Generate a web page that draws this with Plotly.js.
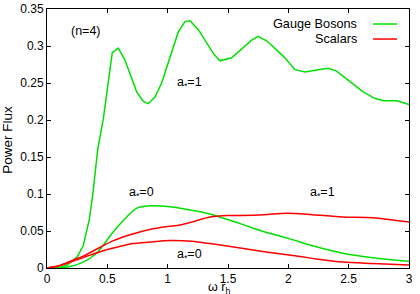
<!DOCTYPE html>
<html>
<head>
<meta charset="utf-8">
<script src="https://cdn.plot.ly/plotly-3.0.1.min.js"></script>
<style>html,body{margin:0;padding:0;background:#fff}#chart{width:420px;height:294px}</style>
</head>
<body>
<div id="chart"></div>
<script>
// Gauge bosons, a*=1
const gb1X = [0, 0.1, 0.166, 0.25, 0.3, 0.35, 0.38, 0.42, 0.467, 0.541, 0.591, 0.646, 0.743, 0.798, 0.839, 0.895, 0.95, 1.088, 1.143, 1.185, 1.254, 1.378, 1.433, 1.53, 1.696, 1.75, 1.82, 1.96, 2.055, 2.138, 2.248, 2.33, 2.40, 2.51, 2.62, 2.72, 2.79, 2.90, 3.0];
const gb1Y = [0, 0.0005, 0.004, 0.015, 0.03, 0.065, 0.10, 0.16, 0.202, 0.291, 0.297, 0.281, 0.238, 0.225, 0.222, 0.231, 0.250, 0.319, 0.333, 0.334, 0.322, 0.290, 0.280, 0.284, 0.308, 0.313, 0.307, 0.286, 0.268, 0.265, 0.268, 0.270, 0.266, 0.252, 0.238, 0.229, 0.226, 0.226, 0.221];
// Gauge bosons, a*=0
const gb0X = [0, 0.1, 0.16, 0.3, 0.41, 0.55, 0.66, 0.745, 0.88, 1.0, 1.2, 1.35, 1.6, 1.8, 2.0, 2.2, 2.45, 2.7, 3.0];
const gb0Y = [0, 0.0002, 0.001, 0.008, 0.02, 0.049, 0.069, 0.081, 0.084, 0.083, 0.078, 0.073, 0.060, 0.049, 0.040, 0.030, 0.020, 0.014, 0.009];
// Scalars, a*=1
const sc1X = [0, 0.1, 0.22, 0.3, 0.44, 0.55, 0.71, 0.85, 1.0, 1.1, 1.2, 1.35, 1.5, 1.62, 1.8, 1.99, 2.2, 2.45, 2.7, 3.0];
const sc1Y = [0, 0.003, 0.011, 0.016, 0.028, 0.037, 0.046, 0.052, 0.056, 0.058, 0.062, 0.069, 0.071, 0.071, 0.072, 0.074, 0.072, 0.069, 0.068, 0.062];
// Scalars, a*=0
const sc0X = [0, 0.1, 0.16, 0.3, 0.44, 0.6, 0.71, 0.85, 1.02, 1.2, 1.35, 1.6, 1.8, 1.99, 2.2, 2.45, 2.7, 3.0];
const sc0Y = [0, 0.003, 0.006, 0.014, 0.022, 0.029, 0.033, 0.035, 0.037, 0.036, 0.033, 0.027, 0.022, 0.018, 0.013, 0.008, 0.006, 0.004];

const xTicks = [0, 0.5, 1, 1.5, 2, 2.5, 3];
const xTickText = ['0', '0.5', '1', '1.5', '2', '2.5', '3'];
const yTicks = [0, 0.05, 0.1, 0.15, 0.2, 0.25, 0.3, 0.35];
const yTickText = ['0', '0.05', '0.1', '0.15', '0.2', '0.25', '0.3', '0.35'];

const GREEN = '#00e000';
const RED = '#ff0000';
const FAM = 'Liberation Sans, Arial, sans-serif';
const FONT = {family: FAM, size: 12, color: '#000'};
const TFONT = {family: FAM, size: 12.5, color: '#000'};

const traces = [
  {x: gb1X, y: gb1Y, mode: 'lines', name: 'Gauge Bosons', line: {color: GREEN, width: 1.5}},
  {x: gb0X, y: gb0Y, mode: 'lines', name: 'Gauge Bosons', line: {color: GREEN, width: 1.5, shape: 'spline', smoothing: 0.8}},
  {x: sc1X, y: sc1Y, mode: 'lines', name: 'Scalars', line: {color: RED, width: 1.5, shape: 'spline', smoothing: 0.8}},
  {x: sc0X, y: sc0Y, mode: 'lines', name: 'Scalars', line: {color: RED, width: 1.5, shape: 'spline', smoothing: 0.8}}
];

const ann = (x, y, text) => ({x, y, xref: 'x', yref: 'y', text, showarrow: false, font: TFONT, xanchor: 'center', yanchor: 'middle'});

const layout = {
  width: 420, height: 294,
  margin: {l: 47, r: 11, t: 9, b: 26},
  paper_bgcolor: '#fff', plot_bgcolor: '#fff',
  showlegend: false,
  font: FONT,
  xaxis: {
    range: [0, 3], tickvals: xTicks, ticktext: xTickText,
    ticks: 'inside', ticklen: 4, tickcolor: '#000', showline: true, linecolor: '#000', linewidth: 1,
    mirror: 'ticks', showgrid: false, zeroline: false, tickfont: FONT
  },
  yaxis: {
    range: [0, 0.35], tickvals: yTicks, ticktext: yTickText,
    ticks: 'inside', ticklen: 4, tickcolor: '#000', showline: true, linecolor: '#000', linewidth: 1,
    mirror: 'ticks', showgrid: false, zeroline: false, tickfont: FONT
  },
  annotations: [
    ann(0.323, 0.320, '(n=4)'),
    ann(1.185, 0.250, 'a<sub>*</sub>=1'),
    ann(0.787, 0.101, 'a<sub>*</sub>=0'),
    ann(2.28, 0.101, 'a<sub>*</sub>=1'),
    ann(1.185, 0.0176, 'a<sub>*</sub>=0'),
    {x: 0.862, y: 0.942, xref: 'paper', yref: 'paper', text: 'Gauge Bosons', showarrow: false, font: {family: FAM, size: 12.7, color: '#000'}, xanchor: 'right', yanchor: 'middle'},
    {x: 0.862, y: 0.884, xref: 'paper', yref: 'paper', text: 'Scalars', showarrow: false, font: {family: FAM, size: 12.7, color: '#000'}, xanchor: 'right', yanchor: 'middle'},
    {x: 0.475, y: -0.077, xref: 'paper', yref: 'paper', text: 'ω r<sub>h</sub>', showarrow: false, font: TFONT, xanchor: 'center', yanchor: 'middle'},
    {x: -0.11, y: 0.496, xref: 'paper', yref: 'paper', text: 'Power Flux', textangle: -90, showarrow: false, font: {family: FAM, size: 13.5, color: '#000'}, xanchor: 'center', yanchor: 'middle'}
  ],
  shapes: [
    {type: 'line', xref: 'paper', yref: 'paper', x0: 0.9006, x1: 0.967, y0: 0.942, y1: 0.942, line: {color: GREEN, width: 1.5}},
    {type: 'line', xref: 'paper', yref: 'paper', x0: 0.9006, x1: 0.967, y0: 0.884, y1: 0.884, line: {color: RED, width: 1.5}}
  ]
};

Plotly.newPlot('chart', traces, layout, {staticPlot: true, displayModeBar: false});
</script>
</body>
</html>
